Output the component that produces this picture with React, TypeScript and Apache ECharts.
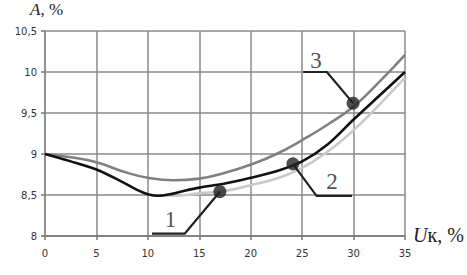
import React, { useEffect, useRef } from "react";
import * as echarts from "echarts";

const xs1 = [0, 2.5, 5, 7.5, 9, 10, 11, 12, 13.5, 15, 17.5, 20, 22.5, 25, 27.5, 30, 32.5, 35];
const curve1 = [9.0, 8.91, 8.81, 8.66, 8.56, 8.51, 8.49, 8.505, 8.55, 8.59, 8.64, 8.71, 8.79, 8.91, 9.12, 9.42, 9.71, 10.0];
const xs2 = [10.5, 12.5, 15, 17.5, 20, 22.5, 25, 27.5, 30, 32.5, 35];
const curve2 = [8.5, 8.49, 8.52, 8.55, 8.62, 8.7, 8.83, 9.03, 9.29, 9.6, 9.93];
const xs3 = [0, 2.5, 5, 7.5, 10, 12.5, 15, 17.5, 20, 22.5, 25, 27.5, 30, 32.5, 35];
const curve3 = [9.0, 8.96, 8.9, 8.79, 8.71, 8.68, 8.7, 8.77, 8.87, 9.0, 9.17, 9.36, 9.58, 9.88, 10.21];
const xTicks = [0, 5, 10, 15, 20, 25, 30, 35];
const yTicks = [8, 8.5, 9, 9.5, 10, 10.5];

// annotation leaders (data coords): dot -> elbow -> end
const leader1 = [[17.0, 8.54], [13.6, 8.03], [10.4, 8.03]];
const leader2 = [[24.1, 8.88], [26.4, 8.49], [29.85, 8.49]];
const leader3 = [[29.95, 9.62], [27.4, 10.0], [25.1, 10.0]];
const labelPts = [
  { name: "1", value: [12.2, 8.2] },
  { name: "2", value: [27.9, 8.66] },
  { name: "3", value: [26.35, 10.14] },
];

const zip = (a: number[], b: number[]) => a.map((v, i) => [v, b[i]]);

export default function App() {
  const ref = useRef<HTMLDivElement>(null);
  useEffect(() => {
    const chart = echarts.init(ref.current!, undefined, { renderer: "svg" });
    const leaderSeries = (d: number[][]) => ({
      type: "line",
      data: d,
      symbol: "none",
      lineStyle: { color: "#222", width: 2.2 },
      z: 5,
      silent: true,
    });
    chart.setOption({
      animation: false,
      backgroundColor: "#fff",
      grid: { left: 45, right: 62, top: 31, bottom: 39 },
      xAxis: {
        type: "value",
        min: 0,
        max: 35,
        interval: 5,
        axisLine: { show: true, lineStyle: { color: "#777", width: 1.5 } },
        axisTick: { show: true, length: 4, lineStyle: { color: "#777", width: 1.5 } },
        axisLabel: {
          color: "#333",
          fontFamily: "DejaVu Sans",
          fontSize: 10,
          margin: 12,
          formatter: (v: number) => (xTicks.includes(v) ? String(v) : ""),
        },
        splitLine: { show: true, lineStyle: { color: "#8a8a8a", width: 1.5 } },
      },
      yAxis: {
        type: "value",
        min: 8,
        max: 10.5,
        interval: 0.5,
        axisLine: { show: true, lineStyle: { color: "#8a8a8a", width: 1.5 } },
        axisTick: { show: true, length: 4, lineStyle: { color: "#777", width: 1.5 } },
        axisLabel: {
          color: "#333",
          fontFamily: "DejaVu Sans",
          fontSize: 10,
          margin: 8,
          formatter: (v: number) => (yTicks.includes(v) ? String(v).replace(".", ",") : ""),
        },
        splitLine: { show: true, lineStyle: { color: "#8a8a8a", width: 1.5 } },
      },
      series: [
        {
          type: "line",
          data: zip(xs2, curve2),
          smooth: 0.5,
          symbol: "none",
          lineStyle: { color: "#c9c9c9", width: 2.6 },
          z: 2,
        },
        {
          type: "line",
          data: zip(xs3, curve3),
          smooth: 0.5,
          symbol: "none",
          lineStyle: { color: "#808080", width: 2.6 },
          z: 3,
        },
        {
          type: "line",
          data: zip(xs1, curve1),
          smooth: 0.3,
          symbol: "none",
          lineStyle: { color: "#111", width: 2.6 },
          z: 4,
        },
        leaderSeries(leader1),
        leaderSeries(leader2),
        leaderSeries(leader3),
        {
          type: "scatter",
          data: [leader1[0], leader2[0], leader3[0]],
          symbolSize: 13,
          itemStyle: { color: "#222" },
          z: 6,
        },
        {
          type: "scatter",
          data: labelPts,
          symbolSize: 0,
          z: 6,
          label: {
            show: true,
            position: "inside",
            formatter: "{b}",
            color: "#222",
            fontFamily: "Liberation Serif",
            fontSize: 23,
          },
        },
      ],
      graphic: [
        {
          type: "text",
          left: 30,
          top: 1,
          style: {
            text: "{i|A}{n|, %}",
            rich: {
              i: { fontFamily: "Liberation Serif", fontStyle: "italic", fontSize: 17, fill: "#222" },
              n: { fontFamily: "Liberation Serif", fontSize: 17, fill: "#222" },
            },
          },
        },
        {
          type: "text",
          left: 413,
          top: 225,
          style: {
            text: "{i|U}{n|к, %}",
            rich: {
              i: { fontFamily: "Liberation Serif", fontStyle: "italic", fontSize: 20, fill: "#222" },
              n: { fontFamily: "Liberation Serif", fontSize: 20, fill: "#222" },
            },
          },
        },
      ],
    });
    return () => chart.dispose();
  }, []);
  return (
    <div
      ref={ref}
      style={{ position: "fixed", left: 0, top: 0, width: 467, height: 275, background: "#fff" }}
    />
  );
}
